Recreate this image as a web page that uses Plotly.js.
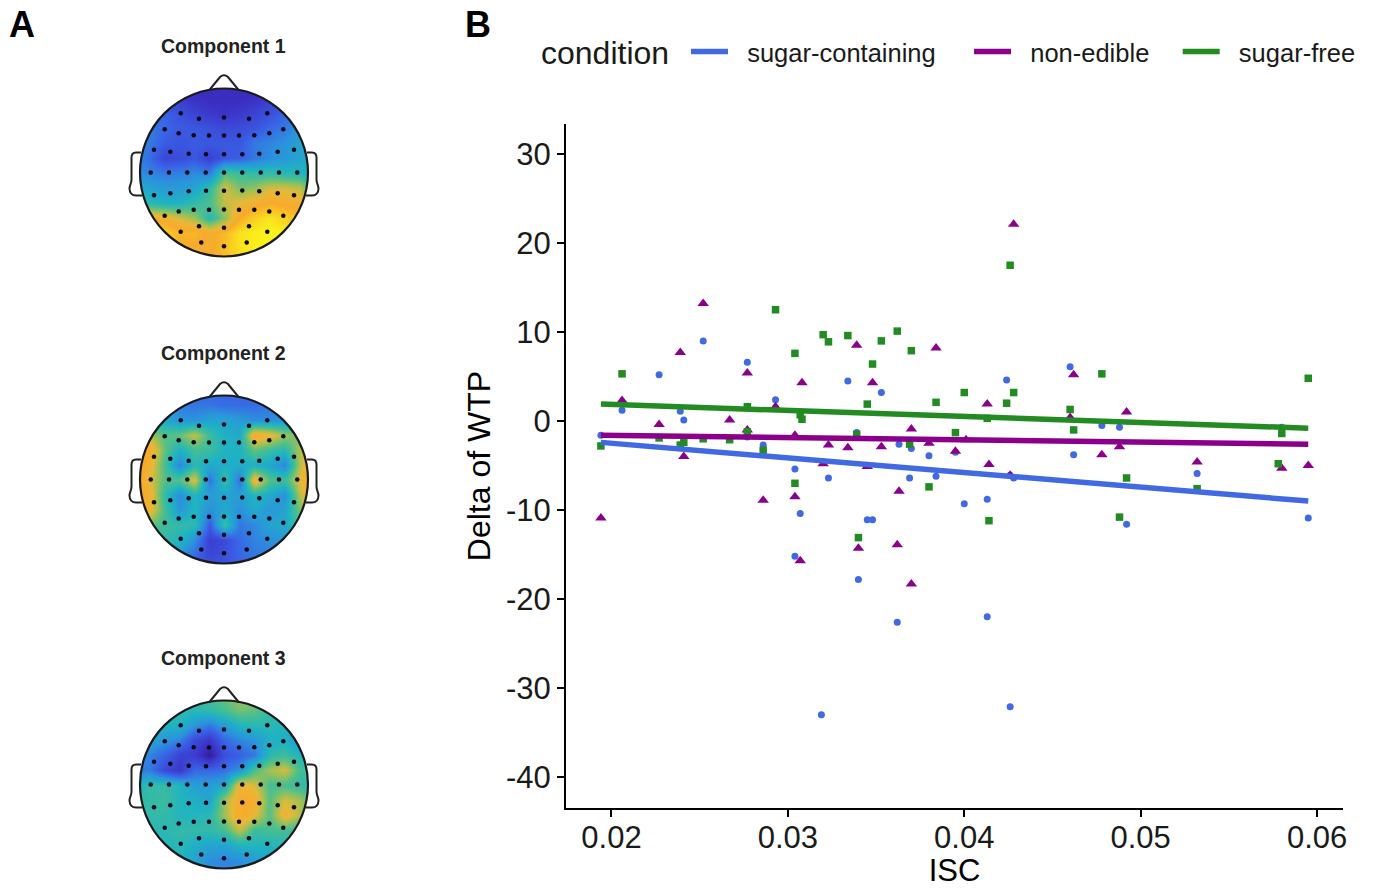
<!DOCTYPE html>
<html><head><meta charset="utf-8">
<script src="https://cdn.plot.ly/plotly-3.0.1.min.js"></script>
<style>html,body{margin:0;padding:0;background:#fff}#c{width:1373px;height:888px}</style></head>
<body><div id="c"></div>
<script>
const legendTitle = 'condition';
const conditionNames = ['sugar-containing','non-edible','sugar-free'];
const conditionColors = ['#4169e1','#8b008b','#228b22'];

const blueX = [.0194,.0206,.0227,.0239,.0241,.0252,.0277,.0277,.0286,.0293,.0304,.0323,.0307,.0334,.0353,.0339,.0345,.0348,.0363,.037,.0369,.038,.0384,.04,.0395,.0413,.0424,.0428,.0426,.046,.0462,.0478,.0488,.0532,.058,.0595,.0492,.0304,.034,.0362,.0413,.0319,.0426];
const blueY = [-1.6,1.2,5.2,1.1,0.1,9.0,6.6,-1.8,-2.7,2.4,-5.4,-6.4,-10.4,4.5,3.2,-1.3,-11.1,-11.1,-2.6,-3.1,-6.4,-3.9,-6.2,-9.3,-3.5,-8.8,4.6,-6.4,-6.1,6.1,-3.8,-0.5,-0.7,-5.9,-0.7,-10.9,-11.6,-15.2,-17.8,-22.6,-22,-33,-32.1];
const purpleX = [.0194,.0206,.0227,.0239,.0241,.0252,.0267,.0277,.0277,.0293,.0286,.0304,.0304,.0308,.032,.0323,.0334,.0339,.0348,.0345,.0353,.0363,.037,.038,.0384,.0395,.0401,.0413,.0414,.0428,.0426,.0462,.046,.0478,.0488,.0492,.0532,.058,.0595,.034,.0362,.0307,.037];
const purpleY = [-10.9,2.3,-0.4,7.7,-4.0,13.2,0.1,5.4,-1.0,1.6,-8.9,-1.6,-8.5,4.3,-4.8,-2.7,-3.0,8.5,4.3,-5.1,-2.9,-7.9,-0.9,-2.5,8.2,-3.4,-2.1,1.9,-4.9,22.1,-6.1,5.2,0.4,-3.8,-2.9,1.0,-4.6,-5.3,-5.0,-14.3,-13.9,-15.7,-18.3];
const greenX = [.0194,.0206,.0227,.0239,.0241,.0252,.0267,.0277,.0277,.0286,.0293,.0304,.0304,.0307,.0308,.032,.0323,.0334,.0339,.0348,.0345,.0353,.0362,.037,.0369,.0384,.038,.04,.0395,.0413,.0424,.0428,.0426,.0414,.046,.0462,.0478,.0492,.0488,.0532,.058,.0578,.0595,.034];
const greenY = [-2.8,5.3,-1.9,-2.7,-2.4,-2.0,-2.1,1.6,-1.2,-3.3,12.5,7.6,-7.0,0.7,0.2,9.7,8.9,9.6,-1.5,6.4,1.9,9.0,10.1,7.9,-2.6,2.1,-7.4,3.2,-1.3,0.3,2.0,3.2,17.5,-11.2,1.3,-1.0,5.3,-6.4,-10.8,-7.6,-1.4,-4.8,4.8,-13.1];

const fitX = [.0194,.0595];
const blueFit = [-2.4,-9.0];
const purpleFit = [-1.6,-2.6];
const greenFit = [1.9,-0.8];

const xTicks = [.02,.03,.04,.05,.06];
const xTickText = ['0.02','0.03','0.04','0.05','0.06'];
const yTicks = [30,20,10,0,-10,-20,-30,-40];
const yTickText = ['30','20','10','0','-10','-20','-30','-40'];

const componentTitles = ['Component 1','Component 2','Component 3'];

const gridAxis = [-90,-75,-60,-45,-30,-15,0,15,30,45,60,75,90];

const comp1 = [
[1,1,1,1,1,1,1,1,1,1,1,1,1],
[1.8,1.8,1.6,1.4,1,.9,.9,.9,1,1.4,1.6,1.8,1.8],
[2.8,2.8,2.5,2,1.6,1.3,1.1,1.3,1.6,2,2.5,2.8,2.8],
[3.2,3,2.6,2.3,2.2,2,1.8,1.9,2.1,2.6,3,3.5,3.6],
[3.2,3,2.3,2.1,2.3,2.2,2.2,2.2,3,3.2,3.5,4,4],
[3.3,2.7,1.7,1.9,2.2,1.5,2.2,2.4,2.9,3.4,3.6,4,4.2],
[3.5,3.2,3,3.1,3.3,3.1,5.5,5.2,5,5,4.8,4.6,4.6],
[4.2,4,3.7,3.7,4,5,7,6,6.3,7,7,6.8,5],
[5.5,4.8,4.5,4.5,5,5.5,6.8,7.2,7.6,8,7.8,7.6,6.5],
[7.5,8,7.6,7,6.4,4.8,6.2,8,9,9.6,9,8.5,8],
[9,9.2,9,8.3,8.4,7.8,8.4,9.5,9.8,10,9.8,9.5,9],
[8.5,8.5,8.7,8,7.8,7.8,8.5,9.5,9.8,9.8,9.5,9,9],
[8.5,8.5,8.5,8,8,8,8.5,9,9.4,9.4,9,9,9]
];
const comp2 = [
[2.5,2.5,2.5,2.5,2.5,2.5,2.5,2.5,2.5,2.5,2.5,2.5,2.5],
[3.5,3.5,3.5,3,2.9,2.9,2.7,2.7,2.7,2.9,3,3.5,3.5],
[4,4,4.2,3.6,3.5,4,4,3.7,3.4,3.4,3.6,4,4],
[6,6.5,5.6,5.8,6.8,5.2,4.4,4.2,8,7.4,6.4,6,6],
[8,8,5.8,4.4,5.4,5.2,4.5,4.5,5.8,5.2,4.8,6.6,8],
[8.5,7.6,5.4,3.2,4.8,4.1,4.4,4.3,4.4,4.1,3.2,6.6,8.5],
[8.6,7.2,5.6,5.6,7.2,2.8,5.2,2.8,7.8,5.6,5.2,7.2,8.6],
[8.5,7.6,5,3.3,4.6,3.8,4,3.8,4.6,4.2,3.4,6.6,8.4],
[8,7.5,5.4,3.6,4.6,3.4,4.2,3.4,4.2,3.6,4,6,7],
[6.4,5.8,5.2,5,4.9,2.3,5.2,2.9,3.3,4,4.2,5.2,5.4],
[5,5,5,4.6,3.4,1.5,1.8,2.7,3.2,3.4,3.6,4.3,4.6],
[4,4,4,3.5,2.7,1.7,2,2.6,2.9,3.1,3.3,3.7,4],
[3,3,3,3,2.6,2.2,2.2,2.4,2.6,2.8,3,3,3]
];
const comp3 = [
[5,5,5,5,5,5.4,6,6.4,6,5.4,5,5,5],
[5,5,5,5,4.8,5,5.4,6,5.8,5,4.6,4.4,4.4],
[4.5,4.5,4.5,4.5,3.6,3,3.8,4.6,4.8,4.8,4.6,4.2,4.2],
[4,4,3.6,3.2,1.8,1.2,2.6,3.2,3.6,4.4,4.4,3.6,3.8],
[3.5,3.2,2.5,1.6,1.4,.3,2,2.4,3,4.8,5.2,4.6,4.4],
[3,3,1.8,1.2,2.6,2.6,2.8,3.5,5.5,6.5,7,5.4,5],
[4.5,5,5,4.6,3.8,3.8,4.2,7.5,7,5.4,5.4,5,5],
[5,5,5.2,4.6,4.4,4,6.4,8,7.8,5.6,7,6.5,5.2],
[5,5,5,4.6,4.6,4.8,6.4,8.2,7.2,5.6,7.6,6.6,5.2],
[4.6,4.8,4.8,5,5,5,5.4,6.8,5.2,5.4,5.4,5,4.8],
[4.5,4.5,4.6,4.8,4.4,4,4,4.6,4.6,4.6,4.8,4.6,4.5],
[4.5,4.5,4.5,4.5,4,3.4,3.2,3.4,3.8,4,4.2,4.4,4.5],
[4.5,4.5,4.5,4.5,4,3.5,3.2,3.4,3.8,4,4.2,4.4,4.5]
];
const componentGrids = [comp1,comp2,comp3];

const electrodeX = [-43.3,-25,0,25,43.3,
 -59.3,-45.3,-30.3,-15,0,15,30.3,45.3,59.3,
 -70,-53.7,-35.3,-18,0,18.3,35.3,53.7,70,
 -73.3,-55,-36.7,-18.3,0,18.3,36.7,55,73.3,
 -70,-53.7,-35.3,-18,0,18.3,35.3,53.7,70,
 -59.3,-45.3,-30.3,-15,0,15,30.3,45.3,59.3,
 -43.3,-25,0,25,43.3,
 -22.7,0,22.7];
const electrodeY = [59.3,53.7,55,53.7,59.3,
 43.3,39.3,37.3,37,37,37,37.3,39.3,43.3,
 22.7,20.7,18.7,18.3,18.3,18.3,18.7,20.7,22.7,
 0,0,0,0,0,0,0,0,0,
 -22.7,-20.7,-18.7,-18.3,-18.3,-18,-18.7,-20.7,-22.7,
 -43.3,-39,-37.3,-37.3,-37,-37.3,-37.3,-39,-43.3,
 -59.3,-53.7,-55.3,-53.7,-59.3,
 -70,-73.7,-70];

const W=1373,H=888;
const topoCenters=[172.5,479.5,784.5];
const topoColors=[[0,'#2a1a80'],[.1,'#3b2fc4'],[.25,'#3a62e6'],[.35,'#2b94dc'],[.45,'#1fb3c2'],[.55,'#4abf8f'],[.65,'#a8c050'],[.72,'#e8b838'],[.8,'#f8aa2c'],[.9,'#f9d022'],[1,'#fbf51a']];

const traces=[];
const pointSets=[[blueX,blueY,'circle',7],[purpleX,purpleY,'triangle-up',10],[greenX,greenY,'square',7.5]];
pointSets.forEach((p,i)=>traces.push({type:'scatter',mode:'markers',x:p[0],y:p[1],showlegend:false,hoverinfo:'skip',
  marker:{symbol:p[2],size:p[3],color:conditionColors[i],line:{width:0}},cliponaxis:false}));
const trailing=['\u00a0\u00a0\u00a0\u00a0','\u00a0\u00a0\u00a0\u200a',''];
[blueFit,purpleFit,greenFit].forEach((f,i)=>traces.push({type:'scatter',mode:'lines',x:fitX,y:f,
  name:'\u00a0\u00a0'+conditionNames[i]+trailing[i],
  line:{color:conditionColors[i],width:5.5},hoverinfo:'skip'}));

const layout={width:W,height:H,margin:{l:0,r:0,t:0,b:0},paper_bgcolor:'#fff',plot_bgcolor:'#fff',showlegend:true,
  font:{family:'"Liberation Sans",Arial,sans-serif',color:'#000'},
  xaxis:{domain:[566/W,1343/W],range:[.017422,.06147],showgrid:false,zeroline:false,showline:true,linewidth:2,linecolor:'#000',
    tickmode:'array',tickvals:xTicks,ticktext:xTickText,ticks:'outside',ticklen:7,tickwidth:2,tickcolor:'#000',ticklabelstandoff:-6,tickfont:{size:31,color:'#1a1a1a'},
    title:{text:'ISC',font:{size:31},standoff:12}},
  yaxis:{domain:[1-808/H,1-124/H],range:[-43.48,33.37],showgrid:false,zeroline:false,showline:true,linewidth:2,linecolor:'#000',
    tickmode:'array',tickvals:yTicks,ticktext:yTickText,ticks:'outside',ticklen:7,tickwidth:2,tickcolor:'#000',tickfont:{size:31,color:'#1a1a1a'},
    title:{text:'Delta of WTP',font:{size:32},standoff:6}},
  legend:{orientation:'h',x:686/W,xanchor:'left',y:1-52/H,yanchor:'middle',font:{size:25.5,color:'#1a1a1a'},itemwidth:37,
    bgcolor:'rgba(0,0,0,0)',itemclick:false,itemdoubleclick:false},
  shapes:[],
  annotations:[
   {text:'<b>A</b>',xref:'paper',yref:'paper',x:7/W,y:1-25/H,xanchor:'left',yanchor:'middle',showarrow:false,font:{size:36}},
   {text:'<b>B</b>',xref:'paper',yref:'paper',x:463/W,y:1-25/H,xanchor:'left',yanchor:'middle',showarrow:false,font:{size:36}},
   {text:legendTitle,xref:'paper',yref:'paper',x:541/W,y:1-53/H,xanchor:'left',yanchor:'middle',showarrow:false,font:{size:32,color:'#1a1a1a'},borderpad:0,xshift:-1}
  ]};

const k=84*0.5523;
const hole=`M -84 0 C -84 ${k} ${-k} 84 0 84 C ${k} 84 84 ${k} 84 0 C 84 ${-k} ${k} -84 0 -84 C ${-k} -84 -84 ${-k} -84 0 Z`;
const nose='M -15 82 L -4 95.5 Q 0 99 4 95.5 L 15 82';
const earL='M -83 20 L -88 20 C -91 20 -92.5 18 -92.5 15 L -92.5 -7 C -92.5 -11 -94.5 -13 -94.5 -16 C -94.5 -20 -92 -23 -88 -23 L -82 -23';
const earR='M 83 20 L 88 20 C 91 20 92.5 18 92.5 15 L 92.5 -7 C 92.5 -11 94.5 -13 94.5 -16 C 94.5 -20 92 -23 88 -23 L 82 -23';

componentGrids.forEach((g,i)=>{
  const n=i+2, ax='x'+n, ay='y'+n, cy=topoCenters[i];
  traces.push({type:'heatmap',x:gridAxis,y:gridAxis,z:g.slice().reverse(),xaxis:ax,yaxis:ay,zmin:0,zmax:10,zsmooth:'best',
    colorscale:topoColors,showscale:false,hoverinfo:'skip'});
  traces.push({type:'scatter',mode:'markers',x:electrodeX,y:electrodeY,xaxis:ax,yaxis:ay,showlegend:false,hoverinfo:'skip',
    marker:{size:4.5,color:'#0a0a1a'}});
  const a={visible:false,fixedrange:true};
  layout['xaxis'+n]=Object.assign({domain:[124/W,324/W],range:[-100,100],anchor:ay},a);
  layout['yaxis'+n]=Object.assign({domain:[1-(cy+100)/H,1-(cy-100)/H],range:[-100,100],anchor:ax},a);
  const sh={xref:ax,yref:ay,layer:'above'};
  layout.shapes.push(Object.assign({type:'path',path:'M -100 -100 L 100 -100 L 100 100 L -100 100 Z '+hole,fillcolor:'#fff',line:{width:0}},sh));
  layout.shapes.push(Object.assign({type:'circle',x0:-84,x1:84,y0:-84,y1:84,line:{color:'#1a1a1a',width:2.2}},sh));
  [nose,earL,earR].forEach(p=>layout.shapes.push(Object.assign({type:'path',path:p,line:{color:'#222',width:2},fillcolor:'rgba(0,0,0,0)'},sh)));
  layout.annotations.push({text:'<b>'+componentTitles[i]+'</b>',xref:'paper',yref:'paper',x:223/W,y:1-(i===0?46:i===1?352.5:657.5)/H,xanchor:'center',yanchor:'middle',showarrow:false,font:{size:19.5,color:'#222'}});
});

Plotly.newPlot('c',traces,layout,{displayModeBar:false,staticPlot:true});
</script></body></html>
